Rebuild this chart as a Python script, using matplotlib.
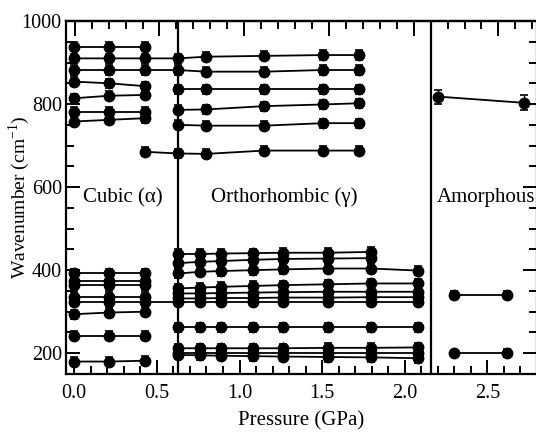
import matplotlib
matplotlib.use("Agg")
import matplotlib.pyplot as plt
from matplotlib.ticker import MultipleLocator, NullFormatter

plt.rcParams['font.family'] = ['Liberation Serif', 'DejaVu Serif']
plt.rcParams['mathtext.fontset'] = 'custom'
plt.rcParams['mathtext.rm'] = 'Liberation Serif'

# ---------------- data ----------------
p_cubic = [0.0, 0.21, 0.43]
p_ortho_hi = [0.627, 0.797, 1.15, 1.506, 1.724]
p_ortho_lo = [0.627, 0.76, 0.888, 1.082, 1.264, 1.536, 1.797, 2.082]
p_amorph_hi = [2.20, 2.72]
p_amorph_lo = [2.30, 2.62]
p_c2o_extra = [0.43]            # cubic-side start of the 685 cm-1 band

cubic_hi = [
    [938, 938, 938],
    [910, 910, 910],
    [882, 882, 882],
    [854, 850, 843],
    [814, 820, 822],
    [782, 782, 782],
    [758, 762, 766],
]
cubic_lo = [
    [392, 392, 392],
    [375, 375, 375],
    [364, 364, 364],
    [336, 336, 336],
    [324, 324, 324],
    [294, 298, 300],
    [242, 242, 242],
    [180, 180, 182],
]
ortho_hi = [
    [910, 914, 916, 918, 918],
    [882, 878, 878, 882, 882],
    [836, 836, 836, 836, 836],
    [786, 787, 795, 799, 802],
    [750, 748, 748, 754, 754],
    [681, 680, 688, 688, 688],
]
band_685_extra = [685]
ortho_lo = [
    [439, 439, 440, 441, 442, 442, 444],
    [417, 420, 422, 425, 427, 428, 429],
    [392, 396, 398, 400, 402, 404, 404, 399],
    [356, 358, 360, 362, 364, 366, 368, 368],
    [344, 344, 345, 346, 347, 348, 348, 348],
    [332, 332, 333, 333, 334, 334, 335, 335],
    [324, 324, 324, 324, 324, 324, 324, 324],
    [262, 262, 262, 262, 262, 262, 262, 262],
    [212, 212, 212, 212, 212, 213, 213, 214],
    [200, 200, 200, 200, 200, 200, 200, 200],
    [196, 195, 194, 193, 192, 191, 190, 188],
]
amorph_hi = [818, 803]
amorph_hi_err = [17, 18]
amorph_lo = [
    [340, 340],
    [200, 200],
]
amorph_lo_err = [[10, 10], [4, 10]]

# links: cubic row index -> ortho row index (continuous lines)
links_hi = {1: 0, 2: 1}
links_lo = {4: 6}

boundaries = [0.627, 2.16]
phase_labels = ["Cubic (α)", "Orthorhombic (γ)", "Amorphous"]
phase_label_x = [0.05, 0.83, 2.195]
phase_label_y = 575

# ---------------- plotting ----------------
fig = plt.figure(figsize=(5.36, 4.38), dpi=100)
ax = fig.add_axes([66/536, 1-374/438, (537-66)/536, (374-21)/438])

style = dict(color='black', marker='o', markersize=7.5, linewidth=1.3,
             elinewidth=1.0, capsize=3.2, capthick=1.2)
ERR = 11

def draw(xs, ys, err=ERR):
    ax.errorbar(xs, ys, yerr=err, **style)

for i, row in enumerate(cubic_hi):
    if i in links_hi:
        j = links_hi[i]
        draw(p_cubic + p_ortho_hi, row + ortho_hi[j])
    else:
        draw(p_cubic, row)
for j, row in enumerate(ortho_hi):
    if j in links_hi.values():
        continue
    if j == 5:
        draw(p_c2o_extra + p_ortho_hi, band_685_extra + row)
    else:
        draw(p_ortho_hi, row)

for i, row in enumerate(cubic_lo):
    if i in links_lo:
        j = links_lo[i]
        draw(p_cubic + p_ortho_lo, row + ortho_lo[j])
    else:
        draw(p_cubic, row)
for j, row in enumerate(ortho_lo):
    if j in links_lo.values():
        continue
    draw(p_ortho_lo[:len(row)], row)

draw(p_amorph_hi, amorph_hi, amorph_hi_err)
for row, e in zip(amorph_lo, amorph_lo_err):
    draw(p_amorph_lo, row, e)

for b in boundaries:
    ax.axvline(b, color='black', linewidth=1.6)

for t, x in zip(phase_labels, phase_label_x):
    ax.text(x, phase_label_y, t, fontsize=15, ha='left', va='center')

ax.set_xlim(-0.05, 2.8)
ax.set_ylim(150, 1000)
ax.xaxis.set_minor_locator(MultipleLocator(0.1))
ax.yaxis.set_major_locator(MultipleLocator(200))
ax.yaxis.set_minor_locator(MultipleLocator(50))
ax.set_xticks([0.0, 0.5, 1.0, 1.5, 2.0, 2.5])
ax.set_xticklabels(["0.0", "0.5", "1.0", "1.5", "2.0", "2.5"])
ax.tick_params(which='both', direction='in', top=False, right=True,
               labelsize=14.5, width=1.4)
ax.tick_params(axis='x', pad=7)
ax.tick_params(axis='y', pad=3)
ax.tick_params(which='major', length=10)
ax.tick_params(which='minor', length=5.5)
for s in ax.spines.values():
    s.set_linewidth(1.6)

# top axis ticks (slightly different scale, as in the original)
top = ax.secondary_xaxis('top', functions=(lambda p: (165*p - 0.5)/169.2,
                                            lambda q: (169.2*q + 0.5)/165))
top.xaxis.set_major_locator(MultipleLocator(0.5))
top.xaxis.set_minor_locator(MultipleLocator(0.1))
top.xaxis.set_major_formatter(NullFormatter())
top.tick_params(which='both', direction='in', width=1.4)
top.tick_params(which='major', length=11)
top.tick_params(which='minor', length=5.5)
top.spines['top'].set_linewidth(1.6)

ax.set_xlabel("Pressure (GPa)", fontsize=15, labelpad=6)
ax.set_ylabel("Wavenumber (cm$^{-1}$)", fontsize=14, va='center')
ax.yaxis.set_label_coords((19 - 66) / 471, 0.5)

fig.savefig("out.png", dpi=100)
